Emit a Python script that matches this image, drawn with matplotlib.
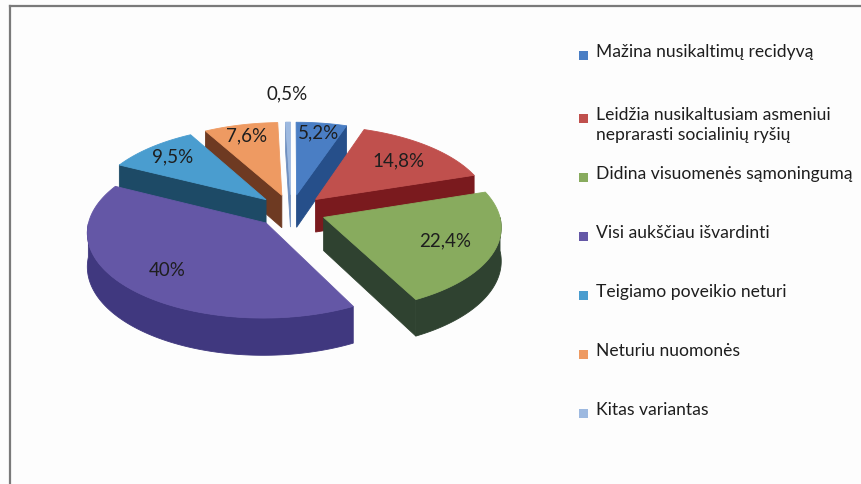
import numpy as np
import matplotlib
matplotlib.use("Agg")
import matplotlib.pyplot as plt
from matplotlib.patches import Polygon, Rectangle
from matplotlib.lines import Line2D

# ---- data ----
categories = [
    "Mažina nusikaltimų recidyvą",
    "Leidžia nusikaltusiam asmeniui\nneprarasti socialinių ryšių",
    "Didina visuomenės sąmoningumą",
    "Visi aukščiau išvardinti",
    "Teigiamo poveikio neturi",
    "Neturiu nuomonės",
    "Kitas variantas",
]
values = [5.2, 14.8, 22.4, 40.0, 9.5, 7.6, 0.5]
value_labels = ["5,2%", "14,8%", "22,4%", "40%", "9,5%", "7,6%", "0,5%"]

# ---- style ----
top_colors = ["#4A7EC4", "#C0504D", "#88AB5E", "#6457A6", "#4A9DCF", "#EE9A62", "#9DB9E0"]
side_colors = ["#264F8A", "#7A1A1E", "#2F4230", "#40387F", "#1D4A66", "#6E3A22", "#6F8FBF"]
legend_colors = ["#4A7EC4", "#C0504D", "#88AB5E", "#6457A6", "#4A9DCF", "#EE9A62", "#9DB9E0"]
label_radius = [0.86, 0.72, 0.72, 0.74, 0.80, 0.84, 1.45]
legend_y = [55, 118, 177, 236, 295, 354, 413]

FONT = "Lato"
W, H = 862, 484
CX, CY = 291, 211      # pie centre (pixels)
RX, RY = 175, 83       # ellipse radii
DEPTH = 33             # thickness
K = 0.10               # perspective
EXPLODE = 0.20

fig = plt.figure(figsize=(W / 100, H / 100), dpi=100)
fig.patch.set_facecolor("#FDFDFD")
ax = fig.add_axes([0, 0, 1, 1])
ax.set_xlim(0, W)
ax.set_ylim(H, 0)
ax.axis("off")


def proj(u, v, z=0.0):
    u = np.asarray(u, float)
    v = np.asarray(v, float)
    w = 1 + K * v
    return CX + RX * u / w, CY - (RY * v + DEPTH * z) / w


total = sum(values)
slices = []
cum = 0.0
for i, val in enumerate(values):
    t2 = 90 - cum / total * 360
    cum += val
    t1 = 90 - cum / total * 360
    m = np.radians((t1 + t2) / 2)
    ou, ov = EXPLODE * np.cos(m), EXPLODE * np.sin(m)
    slices.append(dict(i=i, t1=t1, t2=t2, m=m, ou=ou, ov=ov))

order = sorted(slices, key=lambda s: -s["ov"])


def poly(xs, ys, color, z):
    ax.add_patch(Polygon(np.column_stack([xs, ys]), closed=True, facecolor=color,
                         edgecolor=color, linewidth=0.6, zorder=z))


z = 1
for s in order:
    i = s["i"]
    t = np.radians(np.linspace(s["t1"], s["t2"], max(4, int(abs(s["t2"] - s["t1"]) * 2))))
    ou, ov = s["ou"], s["ov"]
    # radial faces
    for ang, sign in ((s["t1"], -1), (s["t2"], 1)):
        a = np.radians(ang)
        normal = a + sign * np.pi / 2
        if np.sin(normal) < -1e-6:
            ru, rv = ou + np.cos(a), ov + np.sin(a)
            x0, y0 = proj(ou, ov, 0)
            x1, y1 = proj(ru, rv, 0)
            x2, y2 = proj(ru, rv, -1)
            x3, y3 = proj(ou, ov, -1)
            poly([x0, x1, x2, x3], [y0, y1, y2, y3], side_colors[i], z)
            z += 1
    # outer wall (front part)
    mask = np.sin(t) < 0
    if mask.any():
        idx = np.where(mask)[0]
        runs = np.split(idx, np.where(np.diff(idx) != 1)[0] + 1)
        for r in runs:
            tt = t[r]
            if len(tt) < 2:
                continue
            uu, vv = ou + np.cos(tt), ov + np.sin(tt)
            xt, yt = proj(uu, vv, 0)
            xb, yb = proj(uu, vv, -1)
            poly(np.concatenate([xt, xb[::-1]]), np.concatenate([yt, yb[::-1]]), side_colors[i], z)
            z += 1
    # top face
    uu = np.concatenate([[ou], ou + np.cos(t)])
    vv = np.concatenate([[ov], ov + np.sin(t)])
    xt, yt = proj(uu, vv, 0)
    poly(xt, yt, top_colors[i], z)
    z += 1

# value labels
for s in slices:
    i = s["i"]
    r = label_radius[i]
    lu = s["ou"] + r * np.cos(s["m"])
    lv = s["ov"] + r * np.sin(s["m"])
    x, y = proj(lu, lv, 0)
    ax.text(x, y, value_labels[i], ha="center", va="center", fontsize=13.5,
            family=FONT, color="#1E1E1E", zorder=100)

# legend
LX = 584
for i, name in enumerate(categories):
    y = legend_y[i]
    ax.add_patch(Rectangle((LX - 5, y - 4.5), 9, 9, facecolor=legend_colors[i],
                           edgecolor="none", zorder=100))
    ax.text(LX + 12, y - 11, name, ha="left", va="top", fontsize=12.6, family=FONT,
            color="#1E1E1E", linespacing=1.3, zorder=100)

# frame lines
ax.add_line(Line2D([10, W], [5.5, 5.5], color="#7A7A7A", lw=1.6, zorder=200))
ax.add_line(Line2D([10, 10], [5.5, H], color="#7A7A7A", lw=1.6, zorder=200))

fig.savefig("out.png", dpi=100, facecolor=fig.get_facecolor())
